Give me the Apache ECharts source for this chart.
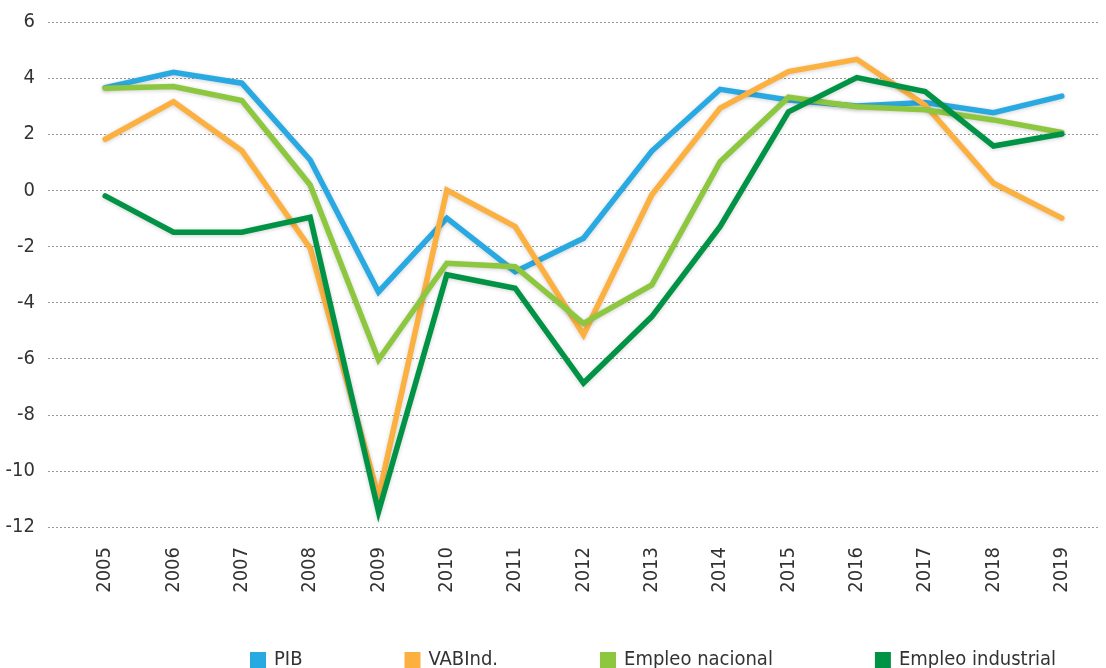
<!DOCTYPE html>
<html>
<head>
<meta charset="utf-8">
<script src="https://cdn.jsdelivr.net/npm/echarts@6/dist/echarts.min.js"></script>
<style>
  html, body { margin: 0; padding: 0; background: #ffffff; }
  #chart { width: 1106px; height: 668px; }
</style>
</head>
<body>
<div id="chart"></div>
<script>
// Annual growth (%), 2005-2019
const years = ['2005','2006','2007','2008','2009','2010','2011','2012','2013','2014','2015','2016','2017','2018','2019'];
const pib            = [3.66, 4.21, 3.82, 1.08, -3.62, -0.99, -2.90, -1.71, 1.40, 3.60, 3.22, 3.01, 3.13, 2.77, 3.36];
const vabInd         = [1.82, 3.16, 1.41, -2.06, -10.92, 0.01, -1.29, -5.15, -0.16, 2.93, 4.23, 4.67, 3.04, 0.25, -0.99];
const empleoNacional = [3.64, 3.70, 3.20, 0.19, -6.04, -2.60, -2.72, -4.74, -3.37, 1.02, 3.32, 2.98, 2.87, 2.51, 2.06];
const empleoIndustrial = [-0.20, -1.49, -1.49, -0.96, -11.46, -3.01, -3.49, -6.87, -4.50, -1.29, 2.80, 4.02, 3.52, 1.58, 2.01];
const seriesNames = ['PIB', 'VABInd.', 'Empleo nacional', 'Empleo industrial'];
const yTicks = { min: -12, max: 6, step: 2 };

const colors = ['#29a9e1', '#fbb040', '#8dc63f', '#009245'];
const FONT = '"DejaVu Sans Condensed", "Liberation Sans Narrow", sans-serif';

const chart = echarts.init(document.getElementById('chart'), null, { renderer: 'canvas' });

function line(name, data, i) {
  return {
    name: name,
    type: 'line',
    xAxisIndex: 0,
    yAxisIndex: 0,
    data: data,
    symbol: 'none',
    smooth: false,
    z: 3,
    lineStyle: {
      width: 5.5,
      color: colors[i],
      cap: 'round',
      join: 'miter',
      shadowBlur: 4,
      shadowColor: 'rgba(0,0,0,0.18)',
      shadowOffsetY: 1
    },
    itemStyle: { color: colors[i] },
    emphasis: { disabled: true }
  };
}

chart.setOption({
  animation: false,
  backgroundColor: '#ffffff',
  color: colors,
  textStyle: { fontFamily: FONT },
  grid: [
    // plotting area for the lines
    { left: 71, right: 10, top: 22, bottom: 141 },
    // wider area carrying the value axis labels and dotted grid lines
    { left: 48, right: 6, top: 22, bottom: 141 }
  ],
  xAxis: [
    {
      type: 'category',
      gridIndex: 0,
      data: years,
      boundaryGap: true,
      axisLine: { show: false },
      axisTick: { show: false },
      splitLine: { show: false },
      axisLabel: {
        rotate: 90,
        margin: 20,
        fontSize: 20,
        color: '#333333',
        fontFamily: FONT
      }
    },
    {
      type: 'value',
      gridIndex: 1,
      show: false,
      min: 0,
      max: 1
    }
  ],
  yAxis: [
    {
      type: 'value',
      gridIndex: 0,
      min: yTicks.min,
      max: yTicks.max,
      interval: yTicks.step,
      show: false,
      splitLine: { show: false }
    },
    {
      type: 'value',
      gridIndex: 1,
      min: yTicks.min,
      max: yTicks.max,
      interval: yTicks.step,
      axisLine: { show: false },
      axisTick: { show: false },
      axisLabel: {
        margin: 13,
        fontSize: 20,
        color: '#333333',
        fontFamily: FONT
      },
      splitLine: {
        show: true,
        lineStyle: { color: '#9a9a9a', width: 1, type: [2, 2] }
      }
    }
  ],
  legend: {
    data: seriesNames,
    left: 245,
    top: 645,
    itemWidth: 16,
    itemHeight: 16,
    itemGap: 102,
    icon: 'rect',
    textStyle: { fontSize: 20, color: '#333333', fontFamily: FONT, padding: [0, 0, 0, 3] },
    selectedMode: false
  },
  series: [
    line(seriesNames[0], pib, 0),
    line(seriesNames[1], vabInd, 1),
    line(seriesNames[2], empleoNacional, 2),
    line(seriesNames[3], empleoIndustrial, 3)
  ]
});
</script>
</body>
</html>
